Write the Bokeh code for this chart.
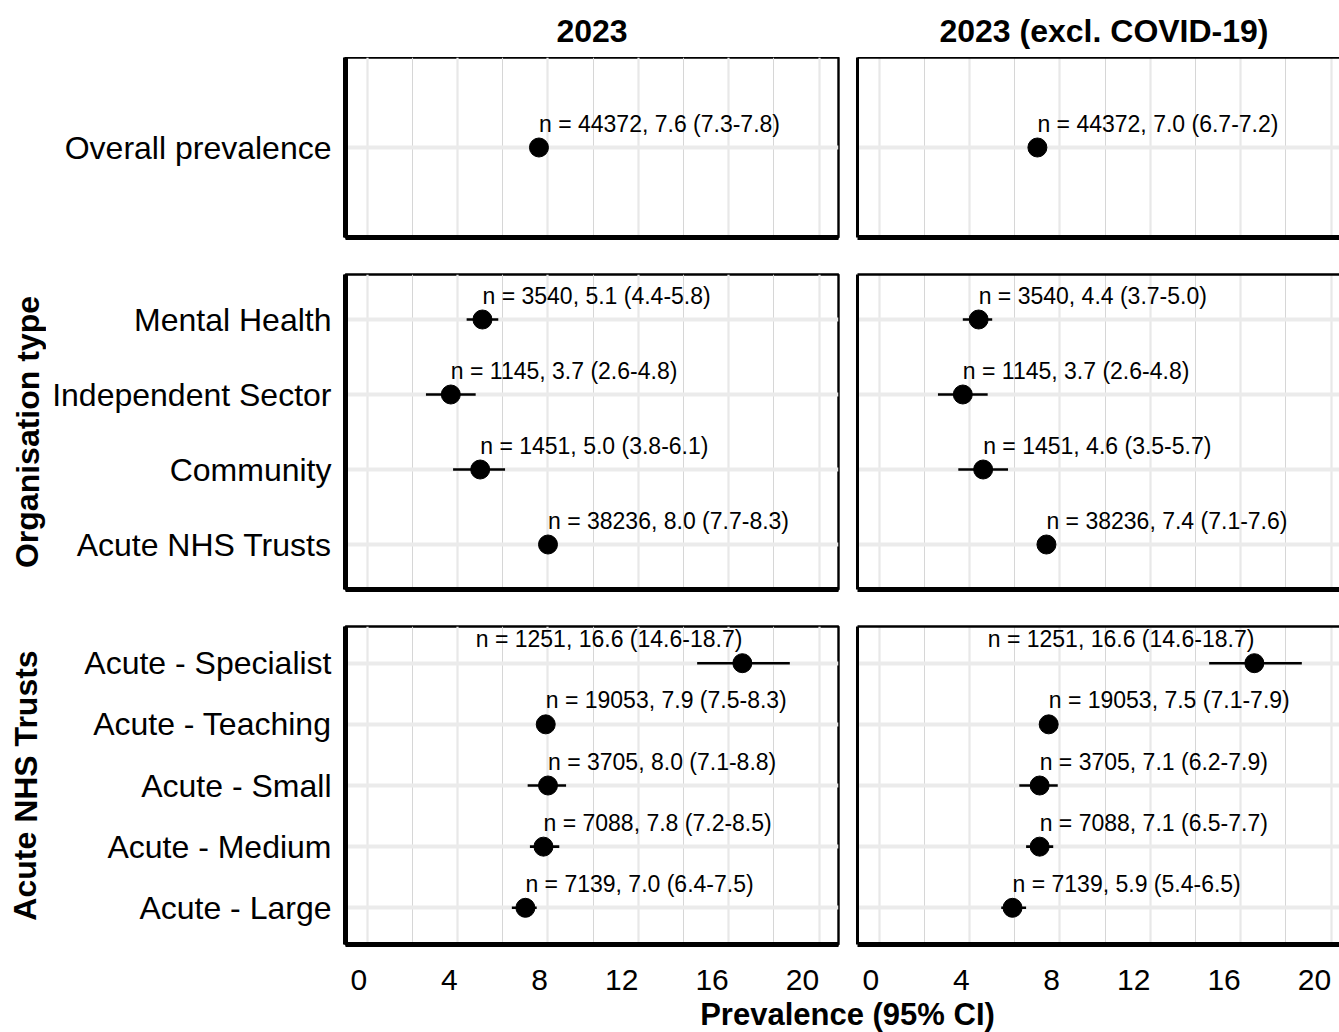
from bokeh.plotting import figure
from bokeh.models import Range1d, FactorRange, FixedTicker, LinearAxis, CategoricalAxis, ColumnDataSource
from bokeh.layouts import column, row
from bokeh.embed import file_html
from bokeh.resources import INLINE
from bokeh.core.properties import value

# ---------------- data ----------------
period_titles = ["2023", "2023 (excl. COVID-19)"]
strip_titles = ["Organisation type", "Acute NHS Trusts"]
x_title = "Prevalence (95% CI)"

overall_cats = ["Overall prevalence"]
org_cats = ["Mental Health", "Independent Sector", "Community", "Acute NHS Trusts"]
acute_cats = ["Acute - Specialist", "Acute - Teaching", "Acute - Small", "Acute - Medium", "Acute - Large"]

n_overall = [44372]
n_org = [3540, 1145, 1451, 38236]
n_acute = [1251, 19053, 3705, 7088, 7139]

est_2023_overall = [7.6]
lo_2023_overall = [7.3]
hi_2023_overall = [7.8]
est_2023_org = [5.1, 3.7, 5.0, 8.0]
lo_2023_org = [4.4, 2.6, 3.8, 7.7]
hi_2023_org = [5.8, 4.8, 6.1, 8.3]
est_2023_acute = [16.6, 7.9, 8.0, 7.8, 7.0]
lo_2023_acute = [14.6, 7.5, 7.1, 7.2, 6.4]
hi_2023_acute = [18.7, 8.3, 8.8, 8.5, 7.5]

est_excl_overall = [7.0]
lo_excl_overall = [6.7]
hi_excl_overall = [7.2]
est_excl_org = [4.4, 3.7, 4.6, 7.4]
lo_excl_org = [3.7, 2.6, 3.5, 7.1]
hi_excl_org = [5.0, 4.8, 5.7, 7.6]
est_excl_acute = [16.6, 7.5, 7.1, 7.1, 5.9]
lo_excl_acute = [14.6, 7.1, 6.2, 6.5, 5.4]
hi_excl_acute = [18.7, 7.9, 7.9, 7.7, 6.5]

x_ticks = [0, 4, 8, 12, 16, 20]
x_minor = [2, 6, 10, 14, 18]
x_tick_labels = [str(t) for t in x_ticks]

# ---------------- layout / style ----------------
FONT = "Liberation Sans"
STRIP_W = 46
LEFT_W, LEFT_MBL, LEFT_MBR = 840, 345, 2        # frame 345..838
RIGHT_W, RIGHT_MBL, RIGHT_MBR = 499, 17, 0      # frame 857..1339 (cut at window edge)
X_START = -0.96
PX_PER_UNIT = 22.6
LEFT_FRAME = LEFT_W - LEFT_MBL - LEFT_MBR
RIGHT_FRAME = RIGHT_W - RIGHT_MBL - RIGHT_MBR
X_END_LEFT = X_START + LEFT_FRAME / PX_PER_UNIT
X_END_RIGHT = X_START + RIGHT_FRAME / PX_PER_UNIT
X_MID = (X_START + X_END_LEFT) / 2


def bare(width, height, mbl, mbr, mbt, mbb, x_range, y_range, outline=None):
    p = figure(width=width, height=height, output_backend="svg", toolbar_location=None,
               x_range=x_range, y_range=y_range, x_axis_location=None, y_axis_location=None,
               min_border_left=mbl, min_border_right=mbr, min_border_top=mbt, min_border_bottom=mbb,
               background_fill_color="white", border_fill_color="white",
               outline_line_color=outline, outline_line_width=2.4)
    return p


def col_geom(left_col, with_strip=False):
    if left_col:
        w = LEFT_W - (STRIP_W if with_strip else 0)
        mbl = LEFT_MBL - (STRIP_W if with_strip else 0)
        return w, mbl, LEFT_MBR, X_END_LEFT
    return RIGHT_W, RIGHT_MBL, RIGHT_MBR, X_END_RIGHT


def no_tick_kw(width):
    return dict(axis_line_width=width, axis_line_color="black",
                major_tick_out=0, major_tick_in=0, minor_tick_out=0, minor_tick_in=0)


def panel(cats, n, est, lo, hi, left_col, frame_h, top, bottom, with_strip=False):
    width, mbl, mbr, x_end = col_geom(left_col, with_strip)
    factors = list(reversed(cats))
    p = bare(width, top + frame_h + bottom, mbl, mbr, top, bottom,
             Range1d(X_START, x_end),
             FactorRange(factors=factors, range_padding=0.1, range_padding_units="absolute"),
             outline="black" if left_col else None)
    p.xgrid.ticker = FixedTicker(ticks=x_ticks, minor_ticks=x_minor)
    p.xgrid.grid_line_color = "#e8e8e8"
    p.xgrid.grid_line_width = 2.2
    p.xgrid.minor_grid_line_color = "#d6d6d6"
    p.xgrid.minor_grid_line_width = 1
    p.ygrid.grid_line_color = "#ebebeb"
    p.ygrid.grid_line_width = 4

    labs = [f"n = {a}, {b:.1f} ({c:.1f}-{d:.1f})" for a, b, c, d in zip(n, est, lo, hi)]
    src = ColumnDataSource(dict(cat=cats, est=est, lo=lo, hi=hi, lab=labs))
    p.segment(x0="lo", y0="cat", x1="hi", y1="cat", source=src, line_color="black", line_width=2.6)
    p.scatter(x="est", y="cat", source=src, size=19, fill_color="black", line_color="black")

    left_idx = [i for i, e in enumerate(est) if e < 15]
    right_idx = [i for i, e in enumerate(est) if e >= 15]
    for idx, align in ((left_idx, "left"), (right_idx, "right")):
        if not idx:
            continue
        s = ColumnDataSource(dict(cat=[cats[i] for i in idx], est=[est[i] for i in idx],
                                  lab=[labs[i] for i in idx]))
        p.text(x="est", y="cat", text="lab", source=s, text_align=align, text_baseline="middle",
               y_offset=-24, text_font=value(FONT), text_font_size="23px", text_color="black")

    p.add_layout(LinearAxis(ticker=FixedTicker(ticks=[]), **no_tick_kw(5)), "below")
    if left_col:
        ya = CategoricalAxis(major_label_standoff=14, major_label_text_font=FONT,
                             major_label_text_font_size="32px", major_label_text_color="black",
                             **no_tick_kw(5))
        p.add_layout(ya, "left")
    else:
        # top and left borders only: the panel runs off the right edge of the window
        p.add_layout(LinearAxis(ticker=FixedTicker(ticks=[]), **no_tick_kw(2.4)), "above")
        p.add_layout(CategoricalAxis(ticker=FixedTicker(ticks=[]), **no_tick_kw(3)), "left")
    return p


def header(left_col, title):
    width, mbl, mbr, x_end = col_geom(left_col)
    p = bare(width, 57, mbl, mbr, 0, 0, Range1d(X_START, x_end), Range1d(0, 1))
    p.grid.visible = False
    p.text(x=[X_MID], y=[0.5], text=[title], text_align="center", text_baseline="middle",
           y_offset=2, text_font=value(FONT), text_font_size="32px", text_font_style="bold",
           text_color="black")
    return p


def tick_row(left_col, height, dy):
    width, mbl, mbr, x_end = col_geom(left_col)
    p = bare(width, height, mbl, mbr, 0, 0, Range1d(X_START, x_end), Range1d(0, 1))
    p.grid.visible = False
    p.text(x=x_ticks, y=[0.5] * len(x_ticks), text=x_tick_labels, text_align="right",
           text_baseline="middle", y_offset=dy, text_font=value(FONT), text_font_size="30px",
           text_color="black")
    return p


def strip(text, height, top, bottom, dx):
    p = bare(STRIP_W, height, 0, 0, top, bottom, Range1d(0, 1), Range1d(0, 1))
    p.grid.visible = False
    p.text(x=[0.5], y=[0.5], text=[text], angle=1.5707963, text_align="center",
           text_baseline="middle", x_offset=dx, text_font=value(FONT), text_font_size="32px",
           text_font_style="bold", text_color="black")
    return p


# row geometry (frame height, top border, bottom border)
R1 = (180, 0, 3)
R2 = (315, 34, 3)
R3 = (318, 34, 3)
TICK_H = 49
TITLE_H = 36

h1 = header(True, period_titles[0])
h2 = header(False, period_titles[1])

p11 = panel(overall_cats, n_overall, est_2023_overall, lo_2023_overall, hi_2023_overall, True, *R1)
p12 = panel(overall_cats, n_overall, est_excl_overall, lo_excl_overall, hi_excl_overall, False, *R1)

s2 = strip(strip_titles[0], sum(R2), R2[1], R2[2], 4)
p21 = panel(org_cats, n_org, est_2023_org, lo_2023_org, hi_2023_org, True, *R2, with_strip=True)
p22 = panel(org_cats, n_org, est_excl_org, lo_excl_org, hi_excl_org, False, *R2)

s3 = strip(strip_titles[1], sum(R3), R3[1], R3[2], 2)
p31 = panel(acute_cats, n_acute, est_2023_acute, lo_2023_acute, hi_2023_acute, True, *R3, with_strip=True)
p32 = panel(acute_cats, n_acute, est_excl_acute, lo_excl_acute, hi_excl_acute, False, *R3)

t1 = tick_row(True, TICK_H, 7.5)
t2 = tick_row(False, TICK_H, 7.5)

# x-axis title centred under both panels
px = bare(LEFT_W + RIGHT_W, TITLE_H, 355, 0, 0, 0, Range1d(0, 1), Range1d(0, 1))
px.grid.visible = False
px.text(x=[0.5], y=[0.5], text=[x_title], text_align="center", text_baseline="middle",
        text_font=value(FONT), text_font_size="31px", text_font_style="bold", text_color="black")

layout = column(row(h1, h2), row(p11, p12), row(s2, p21, p22), row(s3, p31, p32),
                row(t1, t2), px)
open("out.html", "w").write(file_html(layout, INLINE))
